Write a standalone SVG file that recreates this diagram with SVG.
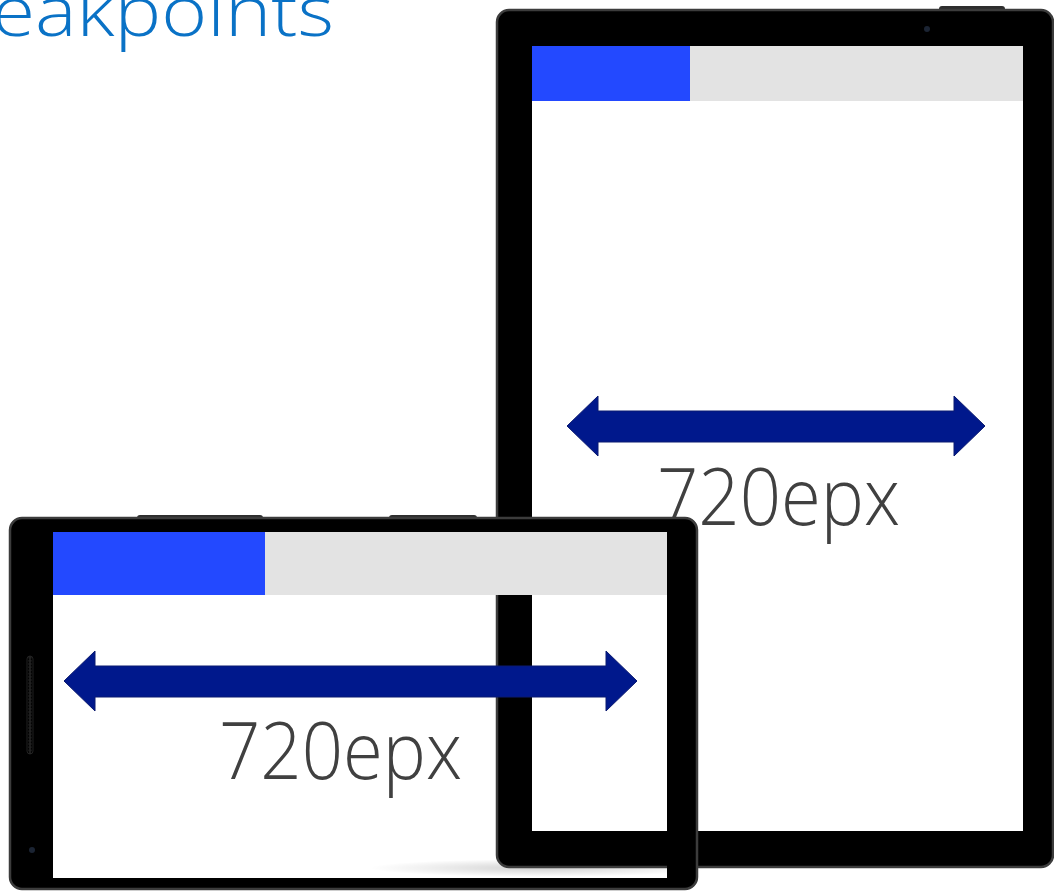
<svg xmlns="http://www.w3.org/2000/svg" width="1054" height="891" viewBox="0 0 1054 891">
  <style>
    .bezel { fill: #000000; }
    .edge { fill: none; stroke: #3c3c3c; stroke-width: 2.5; }
    .screen { fill: #ffffff; }
    .barGrey { fill: #e3e3e3; }
    .barBlue { fill: #2349ff; }
    .arrow { fill: #00188c; stroke: #0b1a70; stroke-width: 1; }
    .label { font-family: "Open Sans", "Liberation Sans", sans-serif; font-weight: 300; font-size: 80px; fill: #404040; }
    .title { font-family: "Open Sans", "Liberation Sans", sans-serif; font-weight: 300; font-size: 70px; fill: #0a72c6; }
    .btn { fill: #2e2e2e; }
    .cam { fill: #1b2433; }
  </style>
  <defs>
    <radialGradient id="shadowGrad" cx="0.5" cy="0.5" r="0.5">
      <stop offset="0" stop-color="#000" stop-opacity="0.18"/>
      <stop offset="1" stop-color="#000" stop-opacity="0"/>
    </radialGradient>
    <pattern id="grille" x="27" y="656" width="6" height="3.2" patternUnits="userSpaceOnUse">
      <circle cx="3" cy="1.6" r="1.2" fill="#141414" stroke="#333" stroke-width="0.6"/>
    </pattern>
  </defs>

  <rect x="0" y="0" width="1054" height="891" fill="#ffffff"/>

  <g id="title">
    <text class="title" x="334" y="36" text-anchor="end" textLength="342" lengthAdjust="spacingAndGlyphs">eakpoints</text>
  </g>

  <g id="tablet">
    <ellipse cx="540" cy="868" rx="170" ry="9" fill="url(#shadowGrad)"/>
    <rect x="939" y="6" width="66" height="8" rx="3" class="btn"/>
    <rect class="bezel" x="497" y="10" width="556" height="857" rx="12"/>
    <rect class="edge" x="497" y="10" width="556" height="857" rx="12"/>
    <rect class="screen" x="532" y="46" width="491" height="785"/>
    <rect class="barGrey" x="532" y="46" width="491" height="55"/>
    <rect class="barBlue" x="532" y="46" width="158" height="55"/>
    <circle class="cam" cx="927" cy="29" r="3"/>
    <polygon class="arrow" points="567,426 598,396 598,411 954,411 954,396 985,426 954,456 954,442 598,442 598,456"/>
    <text class="label" x="657" y="525" textLength="243" lengthAdjust="spacingAndGlyphs">720epx</text>
  </g>

  <g id="phone">
    <rect x="137" y="515" width="126" height="8" rx="3" class="btn"/>
    <rect x="389" y="515" width="88" height="8" rx="3" class="btn"/>
    <path class="bezel" fill-rule="evenodd" d="M22,518 H685 Q697,518 697,530 V877 Q697,889 685,889 H22 Q10,889 10,877 V530 Q10,518 22,518 Z M53,532 V878 H667 V532 Z"/>
    <rect class="edge" x="10" y="518" width="687" height="371" rx="12"/>
    <rect x="27" y="656" width="6" height="98" rx="3" fill="url(#grille)" stroke="#2a2a2a" stroke-width="0.8"/>
    <circle class="cam" cx="32" cy="850" r="3"/>
    <rect class="barGrey" x="53" y="532" width="614" height="63"/>
    <rect class="barBlue" x="53" y="532" width="212" height="63"/>
    <polygon class="arrow" points="64,681 95,651 95,666 606,666 606,651 637,681 606,711 606,697 95,697 95,711"/>
    <text class="label" x="219" y="779" textLength="243" lengthAdjust="spacingAndGlyphs">720epx</text>
  </g>
</svg>
